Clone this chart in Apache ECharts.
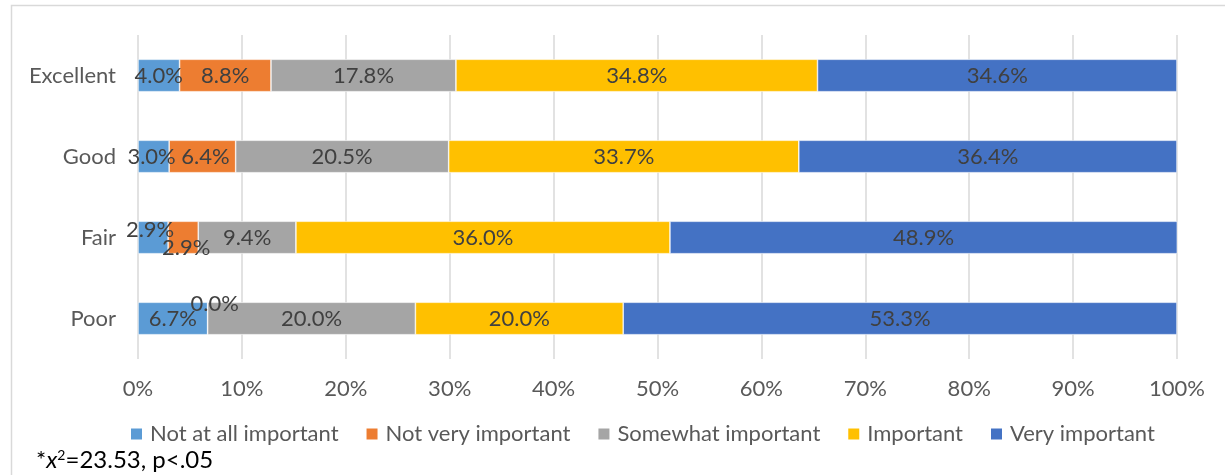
<!DOCTYPE html>
<html>
<head>
<meta charset="utf-8">
<script src="https://cdn.jsdelivr.net/npm/echarts@6/dist/echarts.min.js"></script>
<style>
  html, body { margin: 0; padding: 0; background: #fff; }
  #chart { width: 1225px; height: 475px; }
</style>
</head>
<body>
<div id="chart"></div>
<script>
// Self-rated category (rows, top to bottom)
const categories = ['Excellent', 'Good', 'Fair', 'Poor'];

// Share of respondents per importance level, in percent
const seriesNames = ['Not at all important', 'Not very important', 'Somewhat important', 'Important', 'Very important'];
const notAtAll   = [4.0, 3.0, 2.9, 6.7];
const notVery    = [8.8, 6.4, 2.9, 0.0];
const somewhat   = [17.8, 20.5, 9.4, 20.0];
const important  = [34.8, 33.7, 36.0, 20.0];
const veryImp    = [34.6, 36.4, 48.9, 53.3];

const xTicks = [0, 10, 20, 30, 40, 50, 60, 70, 80, 90, 100];

const values = [notAtAll, notVery, somewhat, important, veryImp];
const colors = ['#5B9BD5', '#ED7D31', '#A5A5A5', '#FFC000', '#4472C4'];

// Labels nudged aside where segments are too thin to hold them
const labelNudge = {
  '0-1': [-2, 0],
  '1-1': [3, 0],
  '0-2': [-3, -8],
  '1-2': [3, 10],
  '1-3': [7, -15]
};

const FONT = 'Lato, "Open Sans", sans-serif';
const FS = 22;

const chart = echarts.init(document.getElementById('chart'), null, { renderer: 'canvas' });

const series = values.map((vals, si) => ({
  name: seriesNames[si],
  type: 'bar',
  stack: 'total',
  barCategoryGap: '60%',
  itemStyle: { color: colors[si], borderColor: '#ffffff', borderWidth: 0.6 },
  label: {
    show: true,
    position: 'inside',
    color: '#404040',
    fontSize: FS,
    fontFamily: FONT,
    formatter: p => p.value.toFixed(1) + '%'
  },
  data: vals.map((v, ci) => {
    const off = labelNudge[si + '-' + ci];
    return off ? { value: v, label: { offset: off } } : v;
  })
}));

chart.setOption({
  animation: false,
  color: colors,
  grid: { left: 138, right: 48, top: 35, bottom: 116, containLabel: false },
  xAxis: {
    type: 'value',
    min: 0,
    max: 100,
    interval: 10,
    axisLine: { show: false },
    axisTick: { show: false },
    splitLine: { lineStyle: { color: '#d9d9d9', width: 1.5 } },
    axisLabel: {
      color: '#595959',
      fontSize: FS,
      fontFamily: FONT,
      margin: 19,
      formatter: v => (xTicks.includes(v) ? v + '%' : '')
    }
  },
  yAxis: {
    type: 'category',
    inverse: true,
    data: categories,
    axisLine: { show: false },
    axisTick: { show: false },
    axisLabel: { color: '#595959', fontSize: FS, fontFamily: FONT, margin: 22 }
  },
  legend: {
    data: seriesNames,
    left: 124,
    top: 418,
    itemWidth: 13,
    itemHeight: 13,
    itemGap: 26,
    icon: 'rect',
    textStyle: { color: '#595959', fontSize: FS, fontFamily: FONT, padding: [0, 0, 0, 2] }
  },
  graphic: [
    {
      type: 'polyline',
      shape: { points: [[11.5, 475], [11.5, 5.5], [1225, 5.5]] },
      style: { stroke: '#d9d9d9', lineWidth: 1.5, fill: null },
      silent: true
    },
    {
      type: 'text',
      left: 36,
      top: 448,
      style: {
        text: '*{i|x}{s|2}{t|=23.53, p<.05}',
        rich: {
          i: { fontStyle: 'italic', fontSize: 24, fontFamily: FONT, fill: '#000' },
          s: { fontSize: 14, fontFamily: FONT, fill: '#000', verticalAlign: 'top', padding: [0, 0, 10, 0] },
          t: { fontSize: 24, fontFamily: FONT, fill: '#000' }
        },
        fontSize: 24,
        fontFamily: FONT,
        fill: '#000'
      }
    }
  ],
  series: series
});
</script>
</body>
</html>
